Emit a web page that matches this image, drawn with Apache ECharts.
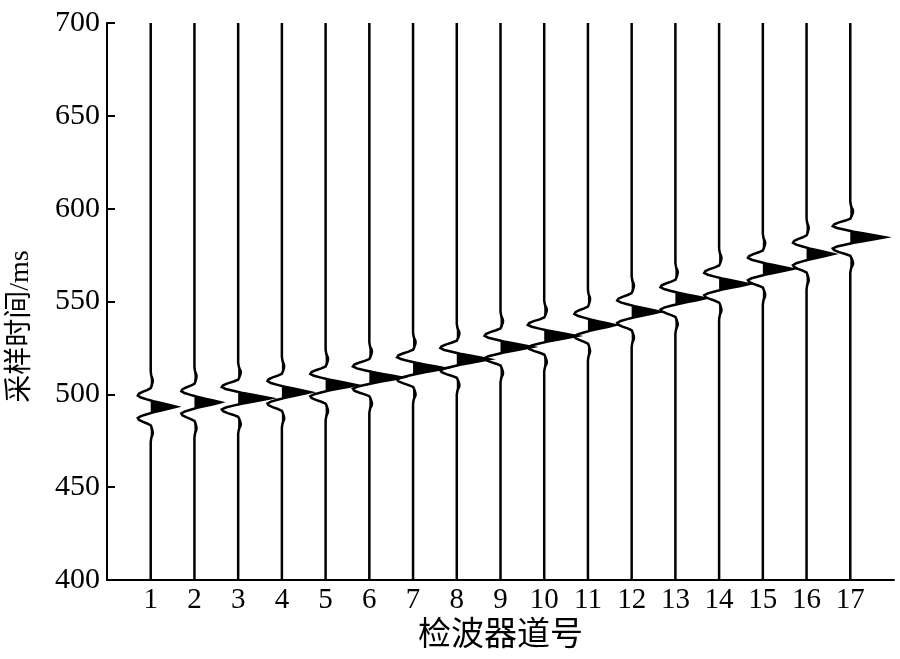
<!DOCTYPE html>
<html>
<head>
<meta charset="utf-8">
<script src="https://cdn.jsdelivr.net/npm/echarts@6/dist/echarts.min.js"></script>
<style>
  html, body { margin: 0; padding: 0; background: #fff; }
  #chart { width: 900px; height: 659px; }
</style>
</head>
<body>
<div id="chart"></div>
<script>
// 道号
var traceNos = [1, 2, 3, 4, 5, 6, 7, 8, 9, 10, 11, 12, 13, 14, 15, 16, 17];
// 各道主峰时间 (ms)
var arrivalTimes = [493.3, 495.7, 497.9, 501.1, 505.0, 509.0, 514.0, 518.9, 525.5,
  531.4, 537.3, 544.5, 551.7, 559.4, 567.5, 575.6, 584.6];
// 各道主峰振幅 (以道间距为单位)
var peakAmps = [0.59, 0.6, 0.75, 0.66, 0.7, 0.75, 0.73, 0.75, 0.73,
  0.75, 0.62, 0.66, 0.68, 0.68, 0.68, 0.62, 0.8];
// 子波形状：相对主峰的时间偏移 (ms) 和归一化振幅
var waveOffsets = [-19, -18, -17, -16, -15, -14, -13, -12, -11, -10, -9, -8, -7, -6, -5, -4, -3, -2, -1, 0,
  1, 2, 3, 4, 5, 6, 7, 8, 9, 10, 11, 12, 13, 14, 15, 16, 17, 18, 19];
var waveShape = [0, 0.01, 0.02, 0.04, 0.07, 0.08, 0.07, 0.05, 0.03, 0, -0.14, -0.32, -0.46, -0.5, -0.38, -0.15, 0.1, 0.4, 0.72, 1,
  0.72, 0.4, 0.1, -0.15, -0.38, -0.5, -0.46, -0.32, -0.14, 0, 0.03, 0.05, 0.07, 0.08, 0.07, 0.04, 0.02, 0.01, 0];
// 纵轴刻度
var timeMin = 400, timeMax = 700, timeStep = 50;

var chart = echarts.init(document.getElementById('chart'));

// 画一道：波形线 + 正半周涂黑
function renderTrace(params, api) {
  var trace = api.value(0);
  var t0 = api.value(1);
  var amp = api.value(2);
  var line = [api.coord([trace, timeMin])];
  var fill = [];
  for (var k = 0; k < waveOffsets.length; k++) {
    var t = t0 + waveOffsets[k];
    var v = waveShape[k] * amp;
    line.push(api.coord([trace + v, t]));
    fill.push(api.coord([trace + Math.max(v, 0), t]));
  }
  line.push(api.coord([trace, timeMax]));
  return {
    type: 'group',
    children: [
      { type: 'polygon', shape: { points: fill }, style: { fill: '#000', stroke: null } },
      { type: 'polyline', shape: { points: line }, style: { stroke: '#000', lineWidth: 2.5, fill: null } }
    ]
  };
}

var serifFont = "'Liberation Serif', 'Noto Sans CJK SC', serif";

chart.setOption({
  animation: false,
  backgroundColor: '#fff',
  grid: { left: 107, right: 6, top: 23, bottom: 79, outerBoundsMode: 'none', containLabel: false },
  xAxis: {
    type: 'value',
    min: 0,
    max: 18,
    interval: 1,
    name: '检波器道号',
    nameLocation: 'middle',
    nameGap: 39,
    nameTextStyle: { fontFamily: serifFont, fontSize: 33, color: '#000' },
    axisLine: { lineStyle: { color: '#000', width: 2 } },
    axisTick: { show: false },
    splitLine: { show: false },
    axisLabel: {
      margin: 6,
      fontFamily: serifFont,
      fontSize: 29,
      color: '#000',
      formatter: function (v) { return (v >= 1 && v <= 17) ? String(v) : ''; }
    }
  },
  yAxis: {
    type: 'value',
    min: timeMin,
    max: timeMax,
    interval: timeStep,
    name: '采样时间/ms',
    nameLocation: 'middle',
    nameGap: 72,
    nameTextStyle: { fontFamily: serifFont, fontSize: 28, color: '#000', padding: [0, 50, 0, 0] },
    axisLine: { lineStyle: { color: '#000', width: 2 } },
    axisTick: { inside: true, length: 8, lineStyle: { color: '#000', width: 2 } },
    splitLine: { show: false },
    axisLabel: { margin: 7, fontFamily: serifFont, fontSize: 30, color: '#000' }
  },
  series: [{
    type: 'custom',
    renderItem: renderTrace,
    data: traceNos.map(function (n, i) { return [n, arrivalTimes[i], peakAmps[i]]; })
  }]
});
</script>
</body>
</html>
